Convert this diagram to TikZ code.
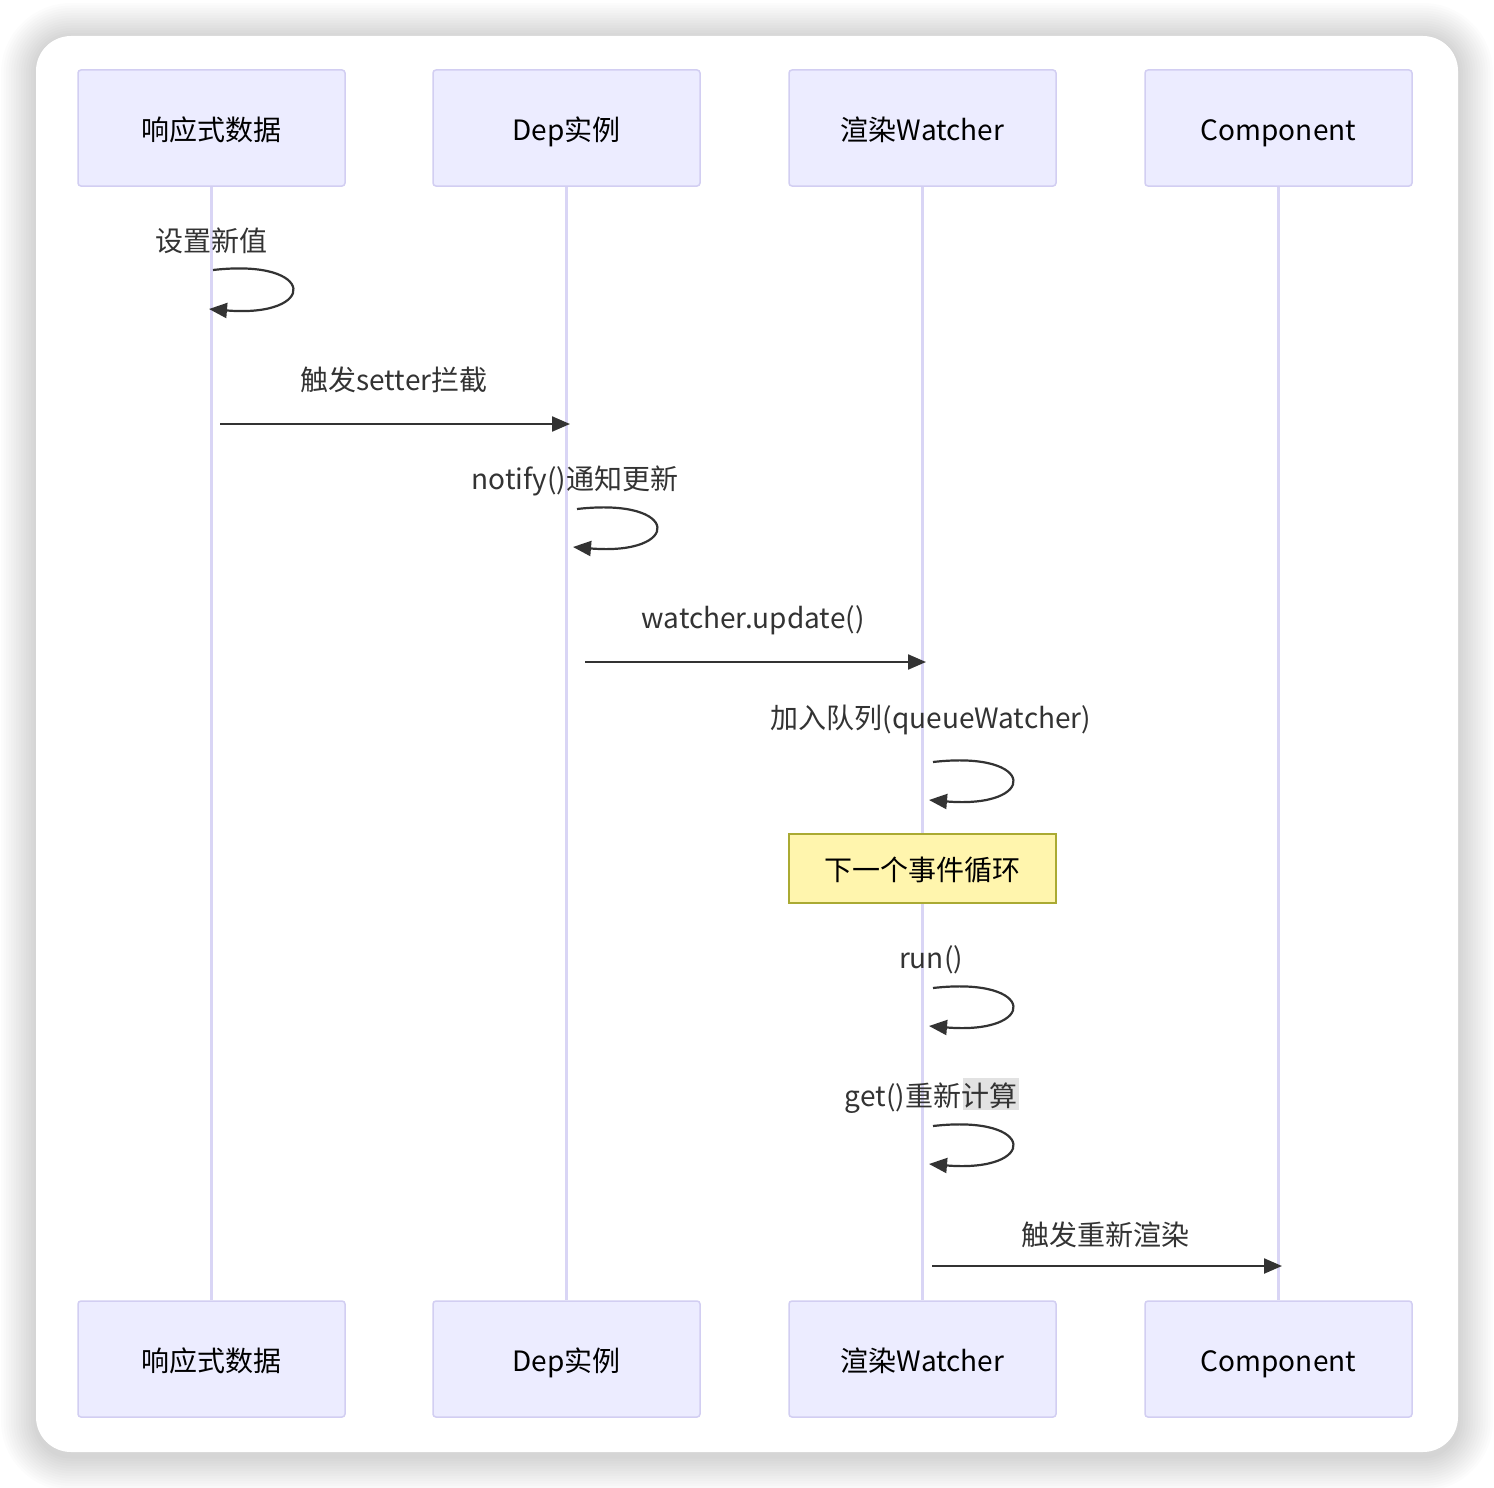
\documentclass[tikz,border=0pt]{standalone}
\usepackage{fontspec}
\setmainfont{Noto Sans CJK SC}
\usetikzlibrary{arrows.meta}
\definecolor{actfill}{HTML}{ECECFF}
\definecolor{actdraw}{HTML}{D2CEF2}
\definecolor{life}{HTML}{D9D5F5}
\definecolor{ink}{HTML}{333333}
\definecolor{notefill}{HTML}{FFF5AD}
\definecolor{notedraw}{HTML}{AAAA33}
\definecolor{hl}{HTML}{E2E2E2}
\begin{document}
\begin{tikzpicture}[x=1pt,y=-1pt,
  actor/.style={draw=actdraw, line width=1.5pt, fill=actfill, rounded corners=3pt,
    minimum width=267pt, minimum height=116pt, inner sep=0pt,
    text height=28pt, text depth=4pt,
    font=\fontsize{28}{32}\selectfont, text=black},
  lifeline/.style={draw=life, line width=2.5pt},
  msg/.style={draw=ink, line width=2.2pt, -{Triangle[length=18pt,width=15pt]}},
  lbl/.style={font=\fontsize{28}{32}\selectfont, text=ink, inner sep=0pt,
    text height=28pt, text depth=4pt},
  notebox/.style={draw=notedraw, line width=1.5pt, fill=notefill,
    minimum width=267pt, minimum height=69pt, inner sep=0pt,
    text height=28pt, text depth=4pt,
    font=\fontsize{28}{32}\selectfont, text=black}]
\useasboundingbox (0,0) rectangle (1494,1488);
\fill[white] (0,0) rectangle (1494,1488);
% shadow
\foreach \i in {1,...,14}{
  \fill[black, opacity=0.010, rounded corners={35pt+\i*2.5pt}]
    ({36-\i*2.5},{38-\i*2.5}) rectangle ({1458+\i*2.5},{1456+\i*2.5});
}
\fill[white, rounded corners=35pt] (36,36) rectangle (1458,1452);

% actors
\node[actor] (a1) at (211.5,128) {响应式数据};
\node[actor] (a2) at (566.5,128) {Dep实例};
\node[actor] (a3) at (922.5,128) {渲染Watcher};
\node[actor] (a4) at (1278.5,128) {Component};
\node[actor] (b1) at (211.5,1359) {响应式数据};
\node[actor] (b2) at (566.5,1359) {Dep实例};
\node[actor] (b3) at (922.5,1359) {渲染Watcher};
\node[actor] (b4) at (1278.5,1359) {Component};

% lifelines
\draw[lifeline] (a1.south) -- (b1.north);
\draw[lifeline] (a2.south) -- (b2.north);
\draw[lifeline] (a3.south) -- (b3.north);
\draw[lifeline] (a4.south) -- (b4.north);

% note
\node[notebox] (note) at (922.5,868.5) {下一个事件循环};

% self loop 1
\node[lbl] (t1) at (211,239) {设置新值};
\coordinate (s1) at (213,270);
\coordinate (e1) at (209,309);
\draw[msg] (s1) .. controls (318,258) and (318,318) .. (e1);

% message 1
\node[lbl] (t2) at (394,378) {触发setter拦截};
\coordinate (m1s) at (220,424);
\coordinate (m1e) at (570,424);
\draw[msg] (m1s) -- (m1e);

% self loop 2
\node[lbl] (t3) at (575,477) {notify()通知更新};
\coordinate (s2) at (577,509);
\coordinate (e2) at (573,547);
\draw[msg] (s2) .. controls (682,497) and (682,556) .. (e2);

% message 2
\node[lbl] (t4) at (753,616) {watcher.update()};
\coordinate (m2s) at (585,662);
\coordinate (m2e) at (926,662);
\draw[msg] (m2s) -- (m2e);

% self loop 3
\node[lbl] (t5) at (931,716) {加入队列(queueWatcher)};
\coordinate (s3) at (933,762);
\coordinate (e3) at (929,800);
\draw[msg] (s3) .. controls (1038,750) and (1038,809) .. (e3);

% self loop 4
\node[lbl] (t6) at (931,956) {run()};
\coordinate (s4) at (933,988);
\coordinate (e4) at (929,1026);
\draw[msg] (s4) .. controls (1038,976) and (1038,1035) .. (e4);

% self loop 5
\fill[hl] (963,1078) rectangle (1019,1110);
\node[lbl] (t7) at (931,1094) {get()重新计算};
\coordinate (s5) at (933,1126);
\coordinate (e5) at (929,1164);
\draw[msg] (s5) .. controls (1038,1114) and (1038,1173) .. (e5);

% message 3
\node[lbl] (t8) at (1105,1233) {触发重新渲染};
\coordinate (m3s) at (932,1266);
\coordinate (m3e) at (1282,1266);
\draw[msg] (m3s) -- (m3e);
\end{tikzpicture}
\end{document}
